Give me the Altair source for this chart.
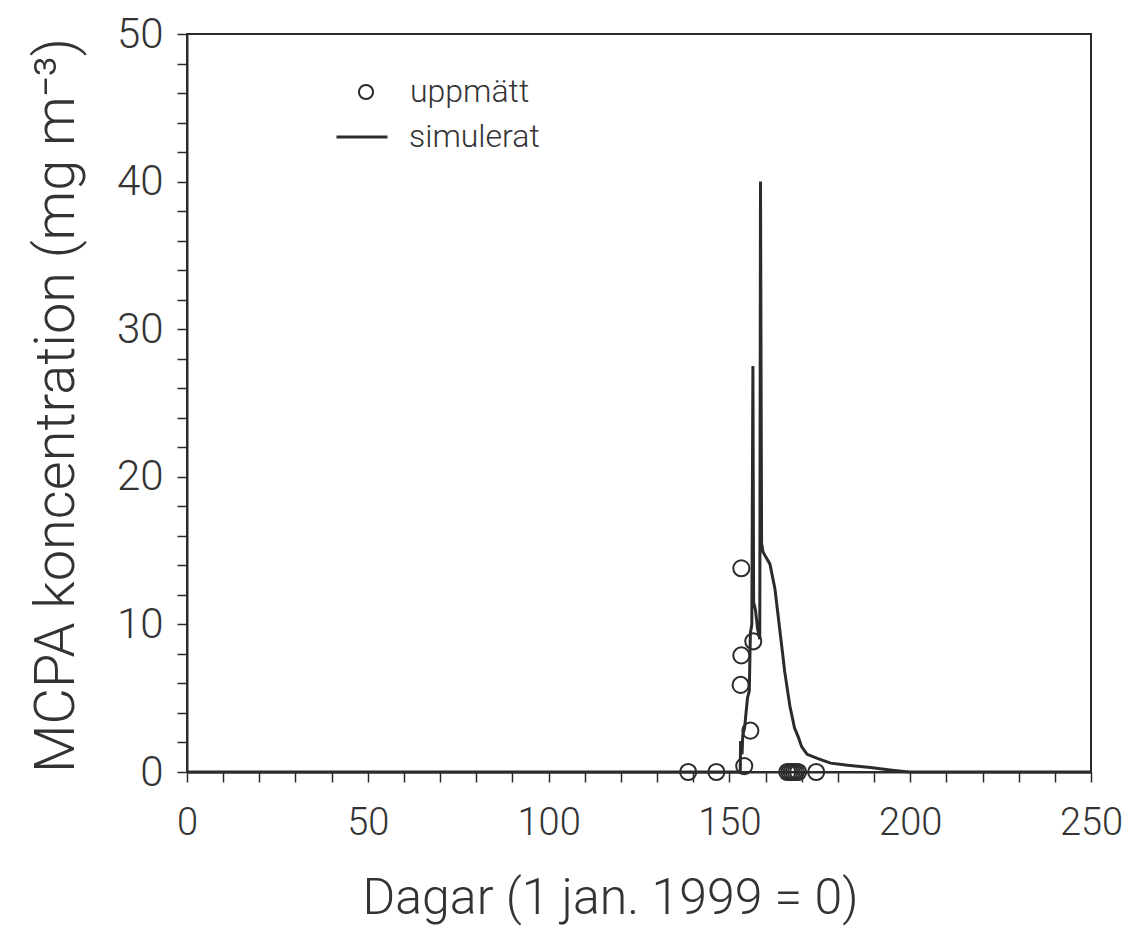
import altair as alt
import pandas as pd

# --- data ---
obs_day = [138.6, 146.4, 154.1, 153.3, 153.3, 153.1, 155.8, 156.6,
           166.0, 166.6, 167.2, 167.8, 168.4, 169.0, 174.0]
obs_val = [0.0, 0.0, 0.4, 13.8, 7.9, 5.9, 2.8, 8.85,
           0.0, 0.0, 0.0, 0.0, 0.0, 0.0, 0.0]

sim_day = [0, 100, 152.8, 153.0, 153.1, 153.5, 153.7, 154.2, 155.0, 155.5,
           155.8, 156.2, 156.5, 156.7, 157.2, 157.8, 158.4, 158.6, 158.9,
           159.3, 160.0, 161.2, 162.6, 164.0, 165.3, 166.7, 168.0, 169.0,
           170.0, 171.5, 174.5, 178.0, 182.7, 189.0, 195.0, 199.0, 200.0, 250.0]
sim_val = [0, 0, 0, 0, 2.1, 1.2, 2.5, 3.0, 5.0, 5.5,
           9.4, 10.0, 27.5, 11.5, 11.0, 9.7, 9.0, 40.0, 15.5,
           14.9, 14.6, 14.1, 12.4, 9.5, 6.8, 4.5, 3.0, 2.4,
           1.7, 1.2, 0.9, 0.6, 0.45, 0.3, 0.12, 0.02, 0, 0]

x_ticks = list(range(0, 251, 10))
y_ticks = list(range(0, 51, 2))

obs_label = "uppmätt"
sim_label = "simulerat"

FONT = "Roboto, Liberation Sans, sans-serif"
W = 300
INK = "#2b2b2b"
TXT = "#333333"

obs = pd.DataFrame({"day": obs_day, "val": obs_val, "series": obs_label})
sim = pd.DataFrame({"day": sim_day, "val": sim_val, "series": sim_label})


def x_enc():
    return alt.X(
        "day:Q",
        scale=alt.Scale(domain=[0, 250], nice=False, zero=False),
        axis=alt.Axis(
            values=x_ticks,
            labelExpr="datum.value % 50 == 0 ? datum.label : ''",
            title="Dagar (1 jan. 1999 = 0)",
            titleFont=FONT, titleFontSize=50, titleFontWeight=W, titleColor=TXT,
            titleX=423, titleY=141, titleAlign="center", titleBaseline="alphabetic",
            labelFont=FONT, labelFontSize=38, labelFontWeight=W, labelColor=TXT,
            labelPadding=22, labelFlush=False, labelOverlap=False,
            tickSize=10, tickColor=INK, tickWidth=1.5,
            domainColor=INK, domainWidth=2, grid=False,
        ),
    )


def y_enc():
    return alt.Y(
        "val:Q",
        scale=alt.Scale(domain=[0, 50], nice=False),
        axis=alt.Axis(
            values=y_ticks,
            labelExpr="datum.value % 10 == 0 ? datum.label : ''",
            title="MCPA koncentration (mg m⁻³)",
            titleFont=FONT, titleFontSize=56, titleFontWeight=W, titleColor=TXT,
            titleX=-114, titleY=371, titleAlign="center", titleBaseline="alphabetic",
            titleAngle=270,
            labelFont=FONT, labelFontSize=42, labelFontWeight=W, labelColor=TXT,
            labelPadding=14, labelFlush=False, labelOverlap=False,
            tickSize=10, tickColor=INK, tickWidth=1.5,
            domainColor=INK, domainWidth=2, grid=False,
        ),
    )


line = alt.Chart(sim).mark_line(strokeWidth=3, strokeJoin="miter").encode(
    x=x_enc(),
    y=y_enc(),
    color=alt.Color(
        "series:N",
        scale=alt.Scale(domain=[sim_label], range=[INK]),
        legend=alt.Legend(
            orient="none", legendX=148, legendY=76, title=None, padding=0,
            symbolType="stroke", symbolSize=2601, symbolStrokeWidth=3,
            labelFont=FONT, labelFontSize=32, labelFontWeight=W, labelColor=TXT,
            labelOffset=20,
        ),
    ),
)

points = alt.Chart(obs).mark_point(
    filled=False, size=260, strokeWidth=2, color=INK, opacity=1
).encode(
    x=x_enc(),
    y=y_enc(),
    shape=alt.Shape(
        "series:N",
        scale=alt.Scale(domain=[obs_label], range=["circle"]),
        legend=alt.Legend(
            orient="none", legendX=163, legendY=42, title=None, padding=0,
            symbolSize=200, symbolStrokeWidth=2, symbolStrokeColor=INK,
            symbolFillColor="white", symbolOpacity=1,
            labelFont=FONT, labelFontSize=32, labelFontWeight=W, labelColor=TXT,
            labelOffset=28,
        ),
    ),
)

chart = (
    alt.layer(line, points)
    .properties(
        width=904, height=738,
        autosize=alt.AutoSizeParams(type="none"),
        padding={"left": 179, "top": 26, "right": 31, "bottom": 166},
        background="white",
    )
    .configure_view(stroke=INK, strokeWidth=2)
    .configure_axis(labelOverlap=False)
)

chart.save("out.html", embed_options={"renderer": "svg", "actions": False})
